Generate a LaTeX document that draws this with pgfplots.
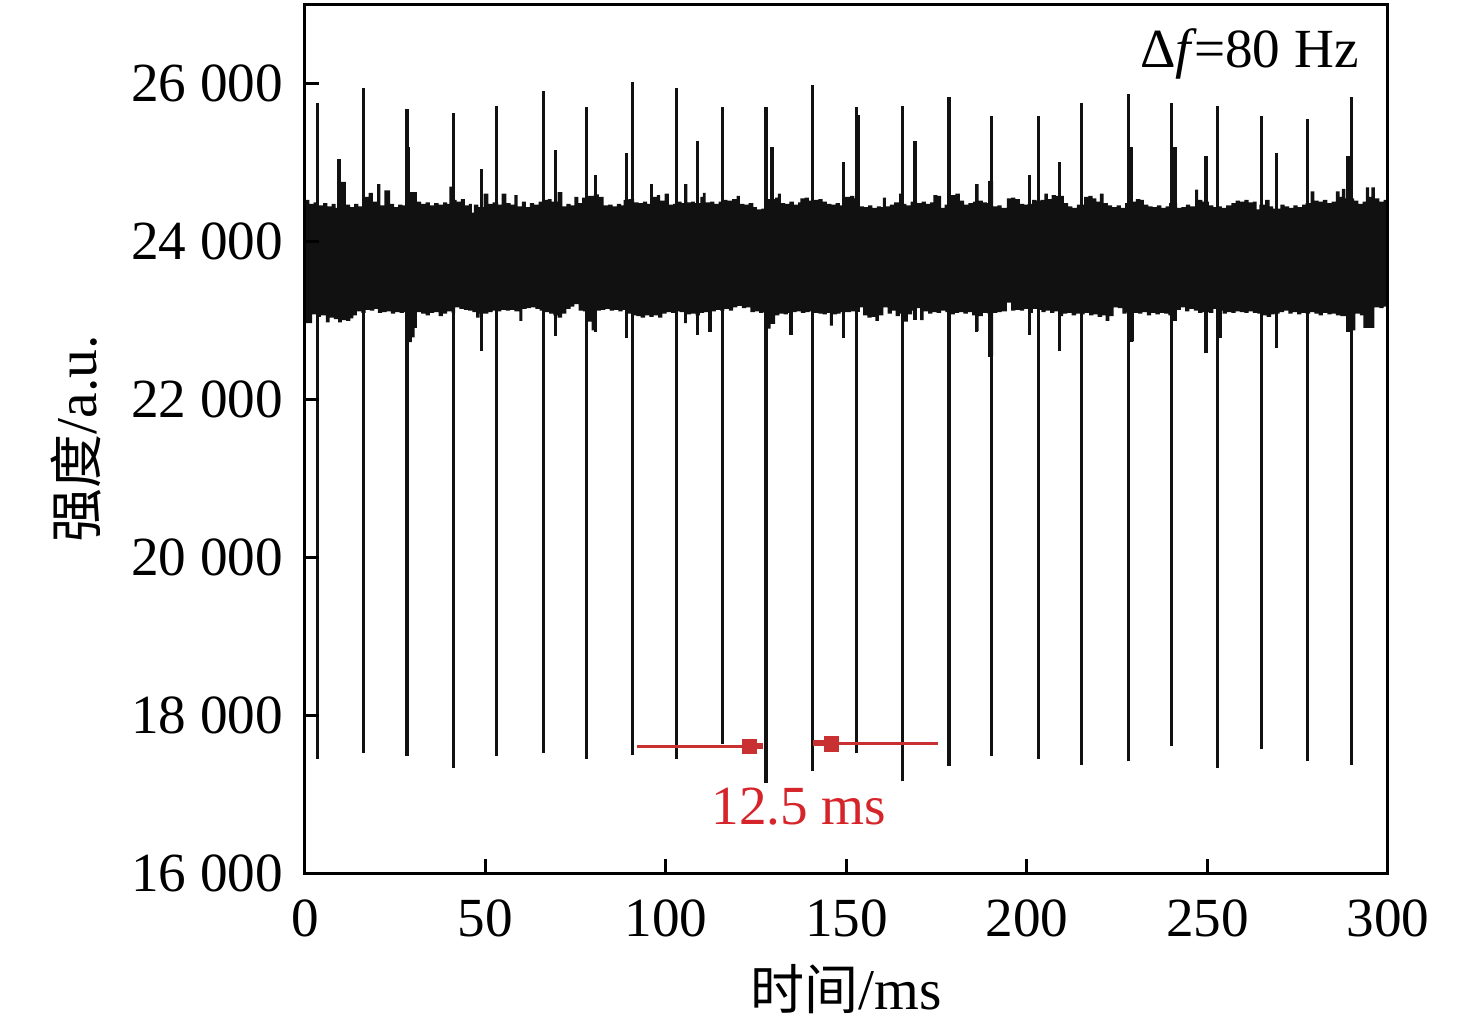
\documentclass[border=0pt]{standalone}
\usepackage{fontspec}
\setmainfont{Liberation Serif}
\newfontfamily\cjk{Noto Sans CJK SC}
\usepackage{pgfplots}
\pgfplotsset{compat=1.18}
\usepgfplotslibrary{fillbetween}
\definecolor{sig}{RGB}{17,17,17}
\definecolor{annred}{RGB}{214,36,43}
\definecolor{annline}{RGB}{200,48,50}
\begin{document}
\fontsize{9.2}{11}\selectfont
\begin{tikzpicture}
\begin{axis}[
  at={(0,0)}, anchor=south west,
  scale only axis, width=180.5pt, height=144.83pt,
  xmin=0, xmax=300, ymin=16000, ymax=27000,
  xtick={0,50,...,300}, ytick={16000,18000,...,26000},
  scaled y ticks=false, scaled x ticks=false,
  /pgf/number format/assume math mode=true,
  /pgf/number format/1000 sep={\kern0.25em},
  tick align=inside, xtick pos=left, ytick pos=left,
  major tick length=2.3pt,
  every tick/.style={black, line width=0.5pt},
  axis line style={line width=0.5pt, black},
  axis on top,
  tick label style={font=\fontsize{9.2}{11}\selectfont},
  xticklabel style={yshift=-1.2pt},
  yticklabel style={xshift=-0.4pt},
  xlabel={{\cjk\fontsize{9}{11}\selectfont 时间}/ms},
  ylabel={{\cjk\fontsize{9}{11}\selectfont 强度}/a.u.},
  xlabel style={at={(axis description cs:0.5,-0.1576)}, anchor=base, font=\fontsize{9.6}{11.5}\selectfont},
  ylabel style={at={(axis description cs:-0.1922,0.5)}, anchor=base, font=\fontsize{9.6}{11.5}\selectfont},
]
% upper envelope of the noise band
\addplot[draw=none, const plot, name path=top] table {
x y
0 24520
1.2 24470
2.4 24490
3.8 24450
5.0 24480
6.2 24440
7.4 24470
8.5 24420
10.0 24750
11.3 24460
12.5 24430
13.6 24470
14.8 24440
16.6 24560
17.6 24610
18.8 24500
20.0 24720
20.9 24450
22.0 24640
23.6 24470
24.7 24430
25.8 24460
27.0 24450
28.6 24620
31.0 24500
32.2 24470
33.4 24490
34.6 24450
35.8 24480
37.0 24460
38.3 24490
39.4 24470
40.0 24690
40.8 24520
42.0 24500
43.2 24530
44.3 24450
45.4 24470
46.2 24360
46.8 24460
48.0 24430
49.5 24600
50.8 24470
52.0 24490
53.5 24460
54.5 24600
55.8 24480
57.0 24460
58.0 24580
58.9 24440
60.1 24500
61.2 24430
62.3 24480
63.5 24460
64.7 24500
66.3 24520
67.3 24530
68.3 24500
70.0 24620
71.3 24440
72.4 24470
73.6 24450
74.6 24560
75.7 24480
76.8 24550
78.3 24570
80.0 24590
81.4 24560
82.7 24450
84.0 24460
85.2 24440
86.4 24470
87.6 24450
88.3 24520
89.6 24530
91.2 24490
92.4 24480
93.6 24500
94.8 24470
95.6 24720
96.4 24560
97.5 24580
98.4 24510
99.6 24600
100.8 24460
102.0 24470
103.2 24500
104.3 24480
105.0 24720
105.9 24490
107.0 24500
108.0 24480
109.5 24560
110.2 24610
111.0 24490
112.2 24500
113.4 24470
114.6 24500
115.8 24520
117.0 24510
118.3 24530
119.6 24570
120.5 24470
121.7 24460
122.9 24480
124.2 24430
125.2 24400
126.4 24410
128.0 24530
130.2 24550
131.0 24600
131.8 24480
133.0 24470
134.2 24500
135.4 24460
136.6 24490
137.2 24540
138.4 24550
139.6 24510
141.0 24520
142.2 24530
143.4 24500
144.6 24470
145.8 24460
147.0 24480
148.2 24450
149.6 24560
151.0 24570
152.2 24540
153.6 24440
154.8 24430
156.0 24450
157.2 24420
158.4 24440
159.6 24430
160.1 24550
160.9 24440
162.0 24460
163.2 24490
164.6 24600
165.3 24470
166.6 24450
167.8 24500
169.6 24480
170.8 24500
172.0 24470
173.2 24490
174.1 24580
175.2 24570
176.2 24420
177.2 24460
178.8 24580
180.2 24600
181.4 24510
182.6 24460
183.8 24480
185.0 24500
185.8 24720
186.6 24510
187.8 24490
188.9 24480
189.4 24760
190.6 24440
191.8 24450
193.0 24420
194.4 24540
195.6 24550
196.8 24530
198.0 24470
199.2 24460
200.2 24470
201.4 24520
202.6 24510
203.8 24520
204.8 24600
205.8 24530
206.8 24580
208.0 24570
210.2 24480
211.4 24440
212.6 24420
213.8 24460
215.8 24560
217.0 24570
218.2 24540
219.2 24500
220.2 24600
221.2 24480
222.4 24450
223.6 24430
224.8 24450
226.0 24420
227.2 24480
228.4 24500
230.2 24530
231.4 24520
232.4 24460
233.6 24440
234.8 24430
236.0 24450
237.2 24420
238.4 24440
239.4 24480
241.6 24420
242.8 24430
244.0 24460
245.2 24440
246.6 24650
247.4 24520
248.6 24500
250.4 24450
251.6 24430
252.8 24440
254.0 24420
255.2 24450
256.6 24480
257.8 24510
259.0 24500
260.2 24520
261.4 24490
262.6 24500
263.6 24400
264.4 24460
266.0 24520
267.2 24440
268.2 24410
270.2 24460
271.4 24440
272.6 24420
273.8 24450
275.0 24430
276.2 24460
277.2 24480
278.6 24630
279.6 24510
280.8 24500
282.0 24520
283.2 24480
284.4 24500
285.6 24630
286.6 24560
287.2 24660
288.2 24540
290.6 24510
291.8 24470
293.0 24500
293.9 24680
294.8 24560
295.4 24680
296.4 24540
297.6 24500
298.8 24520
300 24520
};
% lower envelope of the noise band
\addplot[draw=none, const plot, name path=bot] table {
x y
0 22960
2.0 23070
3.2 23040
4.4 23060
5.8 22970
6.8 23030
8.0 23010
9.2 22970
10.2 23000
11.4 22990
12.6 23020
13.4 23060
14.4 23110
15.6 23090
16.8 23130
18.0 23120
19.2 23140
20.2 23090
21.4 23100
22.6 23110
23.8 23080
25.0 23100
26.2 23090
27.4 23100
28.4 22720
29.6 22780
30.4 22900
31.0 23100
32.2 23080
33.4 23060
34.6 23090
35.8 23100
37.0 23050
38.2 23080
39.4 23110
40.6 23090
41.6 23160
42.8 23140
44.0 23130
45.2 23120
46.4 23100
47.4 23030
48.4 23080
49.6 23080
50.8 23100
52.0 23120
53.2 23110
54.4 23130
55.6 23120
56.8 23130
58.0 23110
59.4 22990
60.2 23140
61.4 23150
62.6 23160
63.8 23140
65.0 23120
66.4 23100
67.6 23080
68.8 23060
70.0 23030
71.2 23080
72.4 23140
73.6 23170
74.6 23200
75.8 23120
77.0 23110
78.4 22980
79.4 22870
80.8 23120
82.0 23130
83.2 23140
84.4 23120
85.6 23130
86.8 23110
88.0 23130
89.4 23080
90.6 23060
91.8 23050
93.0 23030
94.2 23060
95.4 23040
96.6 23060
97.8 23030
99.0 23080
100.2 23100
101.4 23090
102.6 23110
103.8 23100
105.0 22960
105.8 23070
107.0 23080
108.2 23060
109.4 23090
110.6 23100
111.8 22860
112.6 23110
113.8 23130
115.0 23120
116.2 23140
117.4 23120
118.6 23160
119.8 23180
121.0 23150
122.2 23160
123.4 23100
124.6 23110
125.8 23090
127.0 23100
127.9 22890
129.0 22950
130.2 23060
131.4 23080
132.6 23070
133.8 23090
134.4 22820
135.0 23100
136.2 23110
137.4 23090
138.6 23100
139.8 23110
141.0 23090
142.2 23080
143.4 23070
144.6 23090
145.4 22930
146.2 23070
147.4 23080
148.4 23100
150.0 23100
151.2 23110
152.4 23120
153.4 23160
154.6 23060
155.8 23030
157.0 23040
158.0 22990
159.0 23060
160.2 23160
161.4 23080
162.6 23120
163.6 23050
164.8 23080
166.0 22980
167.0 23070
168.2 23120
169.4 23150
170.4 23000
171.4 23110
172.6 23080
173.8 23100
175.0 23090
176.2 23120
177.4 23100
178.8 23070
180.0 23090
181.2 23100
182.4 23080
183.6 23100
184.8 23060
185.8 22860
186.6 23050
187.8 23090
189.0 23080
189.5 22540
190.6 23090
191.8 23100
193.0 23110
194.4 23220
195.6 23120
196.8 23130
198.0 23120
199.2 23140
200.4 23090
201.6 23140
202.8 23130
204.0 23100
205.2 23120
206.4 23090
207.6 23110
208.6 23050
210.0 23080
211.2 23090
212.4 23060
213.6 23080
214.8 23070
216.0 23090
217.2 23060
218.4 23070
219.6 23040
220.8 23060
221.8 22990
222.8 23050
224.0 23160
225.2 23150
226.4 23080
227.6 23100
228.5 22730
229.6 23090
230.8 23080
232.0 23100
233.2 23060
234.4 23090
235.6 23070
236.8 23090
238.0 23080
239.2 23060
240.2 22990
241.4 23130
242.6 23160
243.8 23110
245.0 23140
246.2 23120
247.4 23090
248.6 23100
250.4 23090
251.6 23140
252.8 23120
254.2 23080
255.4 23100
256.6 23090
257.8 23110
259.0 23100
260.2 23090
261.4 23110
262.6 23090
263.8 23080
265.2 23060
266.4 23040
267.6 23070
268.6 23080
270.0 23100
271.2 23120
272.4 23080
273.6 23100
274.8 23070
276.0 23090
277.2 23080
278.4 23100
279.6 23080
280.8 23060
282.0 23090
283.2 23070
284.4 23080
285.6 23060
286.8 23050
288.6 22850
290.0 22870
291.0 23080
292.2 23060
293.2 22900
296.2 23160
297.6 23150
298.8 23170
300 23170
};
\addplot[sig] fill between[of=top and bot];
% spikes: main pulses every 12.5 ms, shoulders and smaller spikes
\addplot[sig, line width=0.55pt, unbounded coords=jump] coordinates {
(3.4,17447)(3.4,25741)(3.4,nan)
(16.2,17518)(16.2,25941)(16.2,nan)
(28.3,17482)(28.3,25665)(28.3,nan)
(41.1,17324)(41.1,25624)(41.1,nan)
(53.1,17482)(53.1,25706)(53.1,nan)
(66.0,17518)(66.0,25900)(66.0,nan)
(78.0,17447)(78.0,25694)(78.0,nan)
(90.8,17488)(90.8,26018)(90.8,nan)
(102.9,17447)(102.9,25941)(102.9,nan)
(115.7,17635)(115.7,25694)(115.7,nan)
(127.7,17135)(127.7,25694)(127.7,nan)
(140.6,17294)(140.6,25971)(140.6,nan)
(152.8,17518)(152.8,25694)(152.8,nan)
(165.5,17160)(165.5,25706)(165.5,nan)
(178.4,17360)(178.4,25824)(178.4,nan)
(190.2,17482)(190.2,25588)(190.2,nan)
(203.1,17441)(203.1,25588)(203.1,nan)
(215.1,17371)(215.1,25741)(215.1,nan)
(228.1,17412)(228.1,25859)(228.1,nan)
(240.1,17606)(240.1,25741)(240.1,nan)
(252.8,17329)(252.8,25706)(252.8,nan)
(265.0,17565)(265.0,25588)(265.0,nan)
(277.8,17412)(277.8,25547)(277.8,nan)
(289.9,17371)(289.9,25824)(289.9,nan)
(28.7,22730)(28.7,25194)(28.7,nan)
(153.3,23100)(153.3,25600)(153.3,nan)
(229.0,22724)(229.0,25194)(229.0,nan)
(241.0,22988)(241.0,25194)(241.0,nan)
(288.9,22853)(288.9,25077)(288.9,nan)
(9.4,23800)(9.4,25040)(9.4,nan)
(48.9,22606)(48.9,24918)(48.9,nan)
(69.4,22800)(69.4,25153)(69.4,nan)
(80.4,22853)(80.4,24841)(80.4,nan)
(89.1,22771)(89.1,25118)(89.1,nan)
(108.8,22812)(108.8,25271)(108.8,nan)
(129.4,23000)(129.4,25194)(129.4,nan)
(149.2,22771)(149.2,25000)(149.2,nan)
(169.0,23000)(169.0,25271)(169.0,nan)
(200.7,22812)(200.7,24841)(200.7,nan)
(209.1,22606)(209.1,25000)(209.1,nan)
(249.6,22577)(249.6,25077)(249.6,nan)
(269.2,22647)(269.2,25118)(269.2,nan)
(253.5,22771)(253.5,23800)(253.5,nan)
(112.2,22853)(112.2,23800)(112.2,nan)
(134.6,22812)(134.6,23800)(134.6,nan)
(186.0,22853)(186.0,24724)(186.0,nan)
(189.6,22529)(189.6,24765)
};
% 12.5 ms annotation
\addplot[annline, line width=0.5pt] coordinates {(92.1,17605)(126.9,17605)};
\addplot[annline, line width=1pt] coordinates {(123.0,17605)(126.9,17605)};
\addplot[annline, only marks, mark=square*, mark size=1.1pt, mark options={draw=annline, fill=annline}] coordinates {(123.1,17600)};
\addplot[annline, line width=0.5pt] coordinates {(140.7,17643)(175.3,17643)};
\addplot[annline, line width=1pt] coordinates {(140.7,17643)(145.0,17643)};
\addplot[annline, only marks, mark=square*, mark size=1.1pt, mark options={draw=annline, fill=annline}] coordinates {(145.8,17630)};
\node[annred, anchor=base, font=\fontsize{9.2}{11}\selectfont] at (axis cs:136.8,16620) {12.5 ms};
\node[anchor=base east, inner sep=0pt, font=\fontsize{9.2}{11}\selectfont] at (axis cs:292.2,26202) {Δ\textit{f}\kern-0.06em=80 Hz};
\end{axis}
\pgfresetboundingbox
\path[use as bounding box] (-50.83pt,-26.67pt) rectangle (195.17pt,145.5pt);
\end{tikzpicture}
\end{document}
